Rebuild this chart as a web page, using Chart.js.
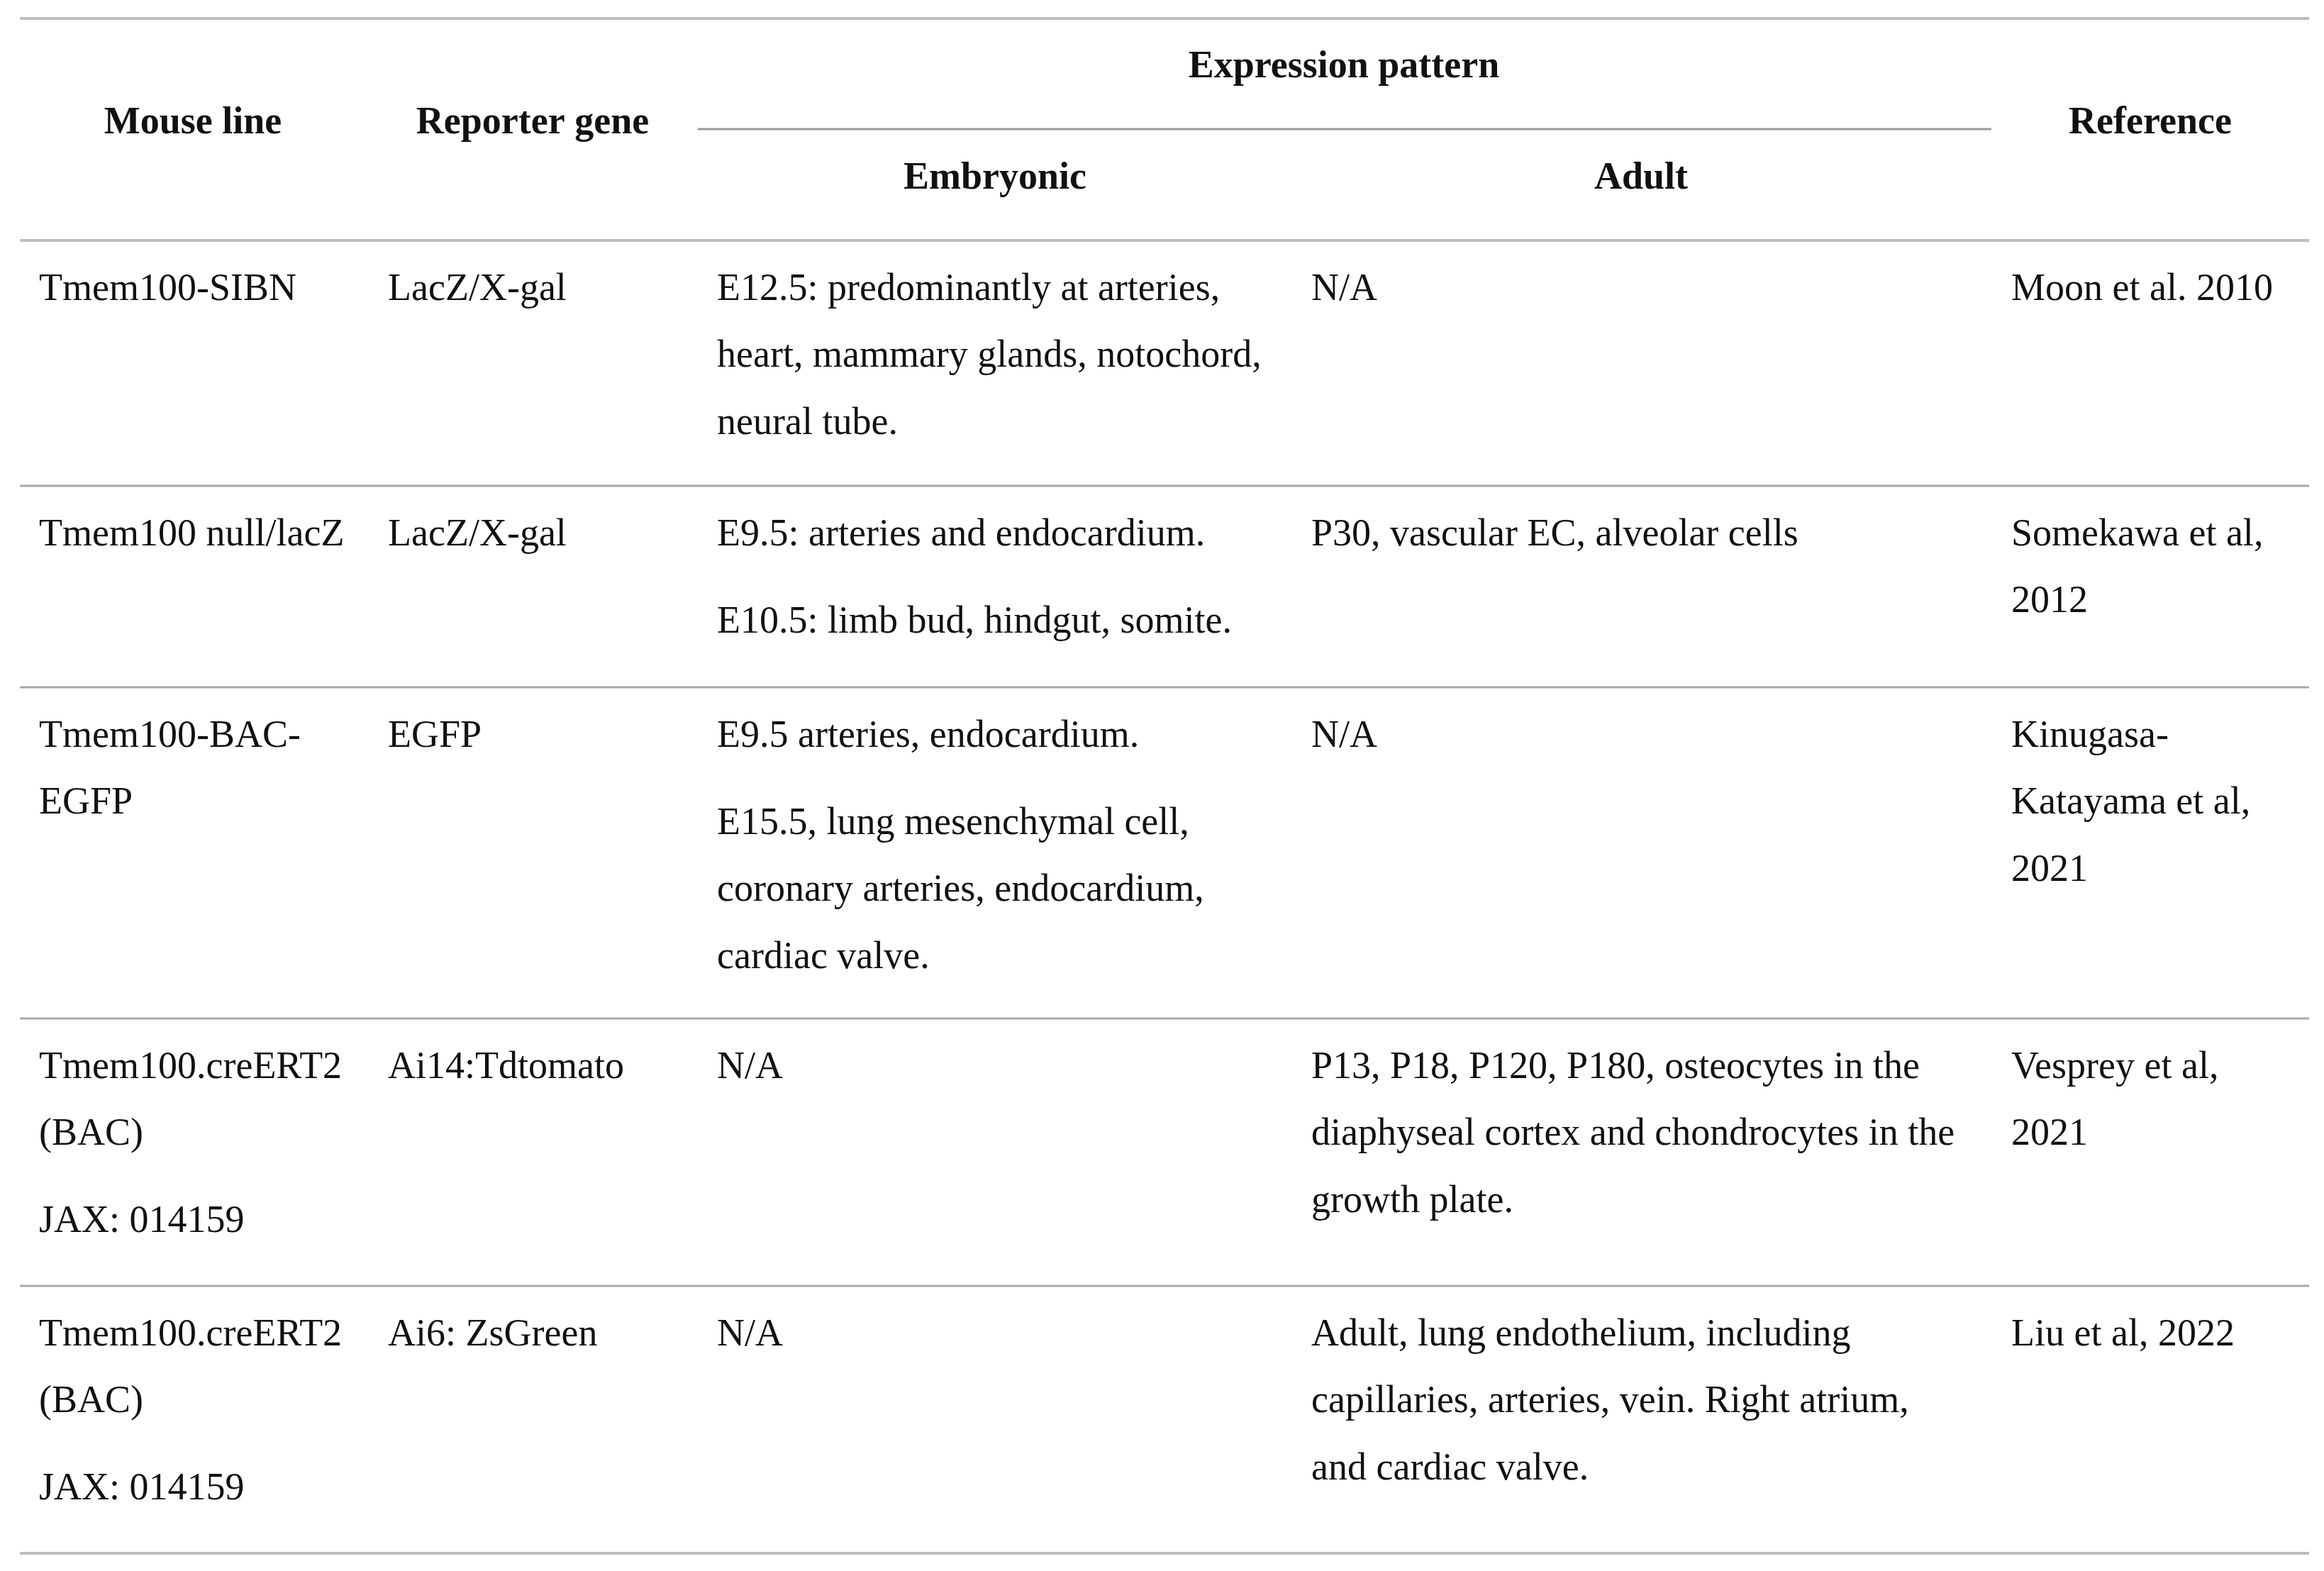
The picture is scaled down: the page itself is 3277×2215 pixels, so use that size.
<!DOCTYPE html>
<html lang="en">
  <head>
    <meta charset="UTF-8" />
    <title>Tmem100 reporter mouse lines</title>
    <script src="https://cdn.jsdelivr.net/npm/chart.js"></script>
    <style>
      body {
        margin: 0;
        padding: 0;
        background: #fff;
      }
      canvas {
        display: block;
      }
    </style>
  </head>
  <body>
    <canvas id="tableChart" width="3277" height="2215"></canvas>

    <script>
      // table content: each cell is a list of paragraphs, each paragraph a list of lines
      const groupHead = "Expression pattern";
      const columnHeads = ["Mouse line", "Reporter gene", "Embryonic", "Adult", "Reference"];

      const mouseLines = [
        [["Tmem100-SIBN"]],
        [["Tmem100 null/lacZ"]],
        [["Tmem100-BAC-", "EGFP"]],
        [["Tmem100.creERT2", "(BAC)"], ["JAX: 014159"]],
        [["Tmem100.creERT2", "(BAC)"], ["JAX: 014159"]],
      ];
      const reporterGenes = [
        [["LacZ/X-gal"]],
        [["LacZ/X-gal"]],
        [["EGFP"]],
        [["Ai14:Tdtomato"]],
        [["Ai6: ZsGreen"]],
      ];
      const embryonic = [
        [["E12.5: predominantly at arteries,", "heart, mammary glands, notochord,", "neural tube."]],
        [["E9.5: arteries and endocardium."], ["E10.5: limb bud, hindgut, somite."]],
        [["E9.5 arteries, endocardium."], ["E15.5, lung mesenchymal cell,", "coronary arteries, endocardium,", "cardiac valve."]],
        [["N/A"]],
        [["N/A"]],
      ];
      const adult = [
        [["N/A"]],
        [["P30, vascular EC, alveolar cells"]],
        [["N/A"]],
        [["P13, P18, P120, P180, osteocytes in the", "diaphyseal cortex and chondrocytes in the", "growth plate."]],
        [["Adult, lung endothelium, including", "capillaries, arteries, vein. Right atrium,", "and cardiac valve."]],
      ];
      const references = [
        [["Moon et al. 2010"]],
        [["Somekawa et al,", "2012"]],
        [["Kinugasa-", "Katayama et al,", "2021"]],
        [["Vesprey et al,", "2021"]],
        [["Liu et al, 2022"]],
      ];

      // layout (in canvas units)
      const W = 3277, H = 2215;
      const ruleLeft = 28, ruleRight = 3256;
      const topRule = 26, bottomRule = 2190;
      const rowRules = [339, 685, 969, 1436, 1813];
      const subRule = { y: 182, x0: 984, x1: 2808 };
      const colLeft = [55, 547, 1011, 1849, 2836];
      const headPos = [
        { x: 272, y: 174 },
        { x: 751, y: 174 },
        { x: 1403, y: 252 },
        { x: 2314, y: 252 },
        { x: 3032, y: 174 },
      ];
      const groupPos = { x: 1895, y: 95 };
      const firstLine = 70, lineStep = 94.3, paraStep = 123;
      const fontSize = 54;

      const columns = [mouseLines, reporterGenes, embryonic, adult, references];

      // text points
      const textPoints = [];
      textPoints.push({ x: groupPos.x, y: groupPos.y, text: groupHead, bold: true, align: "center" });
      columnHeads.forEach((h, i) => {
        textPoints.push({ x: headPos[i].x, y: headPos[i].y, text: h, bold: true, align: "center" });
      });
      columns.forEach((col, c) => {
        col.forEach((cell, r) => {
          let y = rowRules[r] + firstLine;
          cell.forEach((para, p) => {
            if (p > 0) y += paraStep - lineStep;
            para.forEach((line) => {
              textPoints.push({ x: colLeft[c], y: y, text: line, bold: false, align: "left" });
              y += lineStep;
            });
          });
        });
      });

      // rules as line datasets
      function rule(y, x0, x1, color, width) {
        return {
          type: "line",
          data: [{ x: x0, y: y }, { x: x1, y: y }],
          borderColor: color,
          borderWidth: width,
          pointRadius: 0,
          showLine: true,
          fill: false,
        };
      }
      const ruleSets = [
        rule(topRule, ruleLeft, ruleRight, "#bdbdbd", 4),
        rule(subRule.y, subRule.x0, subRule.x1, "#9a9a9a", 3),
        rule(bottomRule, ruleLeft, ruleRight, "#bdbdbd", 4),
      ];
      rowRules.forEach((y, i) => {
        ruleSets.push(rule(y, ruleLeft, ruleRight, i === 0 ? "#bdbdbd" : "#a8a8a8", i === 0 ? 4 : 3));
      });

      const cellText = {
        id: "cellText",
        afterDatasetsDraw(chart) {
          const ctx = chart.ctx;
          const idx = chart.data.datasets.length - 1;
          const meta = chart.getDatasetMeta(idx);
          const pts = chart.data.datasets[idx].data;
          ctx.save();
          ctx.fillStyle = "#111";
          ctx.textBaseline = "middle";
          meta.data.forEach((el, i) => {
            const p = pts[i];
            ctx.font = (p.bold ? "bold " : "") + fontSize + "px 'Liberation Serif', 'Times New Roman', serif";
            ctx.textAlign = p.align;
            ctx.fillText(p.text, el.x, el.y);
          });
          ctx.restore();
        },
      };

      new Chart(document.getElementById("tableChart"), {
        type: "scatter",
        data: {
          datasets: [
            ...ruleSets,
            { data: textPoints, pointRadius: 0, pointHoverRadius: 0 },
          ],
        },
        options: {
          responsive: false,
          animation: false,
          events: [],
          layout: { padding: 0 },
          plugins: { legend: { display: false }, tooltip: { enabled: false } },
          scales: {
            x: { type: "linear", min: 0, max: W, display: false },
            y: { type: "linear", min: 0, max: H, reverse: true, display: false },
          },
        },
        plugins: [cellText],
      });
    </script>
  </body>
</html>
